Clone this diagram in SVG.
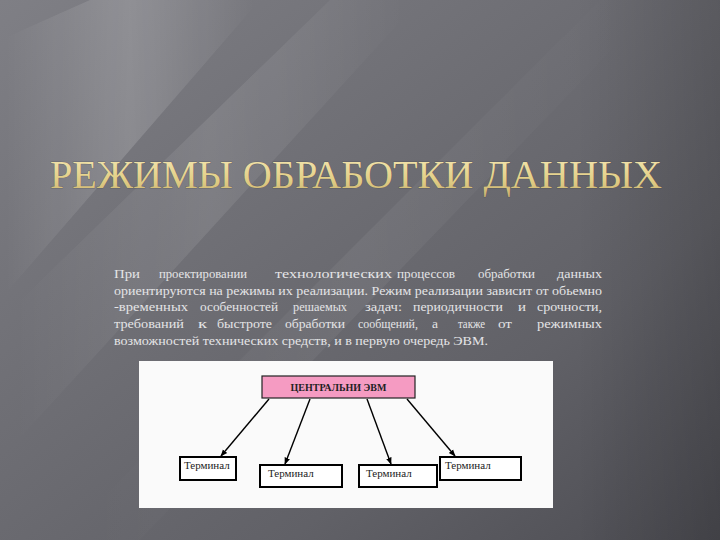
<svg xmlns="http://www.w3.org/2000/svg" width="720" height="540" viewBox="0 0 720 540">
<defs>
  <linearGradient id="bg" x1="0" y1="0" x2="1" y2="1">
    <stop offset="0" stop-color="#7f7f85"/>
    <stop offset="0.35" stop-color="#707076"/>
    <stop offset="0.7" stop-color="#616167"/>
    <stop offset="1" stop-color="#4c4c52"/>
  </linearGradient>
  <linearGradient id="streak" x1="0" y1="0" x2="1" y2="0">
    <stop offset="0" stop-color="#ffffff" stop-opacity="0"/>
    <stop offset="0.5" stop-color="#ffffff" stop-opacity="0.18"/>
    <stop offset="1" stop-color="#ffffff" stop-opacity="0"/>
  </linearGradient>
  <linearGradient id="gold" x1="0" y1="0" x2="0" y2="1">
    <stop offset="0" stop-color="#f6e9b6"/>
    <stop offset="0.6" stop-color="#e2cf86"/>
    <stop offset="1" stop-color="#c8b070"/>
  </linearGradient>
  <linearGradient id="vign" x1="0" y1="0" x2="1" y2="0">
    <stop offset="0" stop-color="#000" stop-opacity="0"/>
    <stop offset="0.8" stop-color="#000" stop-opacity="0"/>
    <stop offset="1" stop-color="#000" stop-opacity="0.15"/>
  </linearGradient>
  <marker id="arr" viewBox="0 0 10 10" refX="9" refY="5" markerWidth="7" markerHeight="7" orient="auto" markerUnits="userSpaceOnUse">
    <path d="M0,1 L10,5 L0,9 Z" fill="#000"/>
  </marker>
  <style>
    text{font-family:'Liberation Serif','DejaVu Serif',serif;}
    .title{font-size:39px;fill:url(#gold);}
    .para{font-size:13.5px;fill:#e4e4e6;}
    .para tspan{lengthAdjust:spacingAndGlyphs;}
    .box{fill:#ffffff;stroke:#000;stroke-width:2;}
    .lbl{font-size:11px;fill:#222;}
    .conn line{stroke:#000;stroke-width:1.4;marker-end:url(#arr);}
  </style>
</defs>
<rect width="720" height="540" fill="url(#bg)"/>
<g opacity="0.9">
  <polygon points="0,40 90,0 260,0 0,300" fill="url(#streak)"/>
  <polygon points="0,320 330,0 420,0 0,460" fill="url(#streak)" opacity="0.6"/>
  <polygon points="60,540 600,0 660,0 140,540" fill="url(#streak)" opacity="0.35"/>
</g>
<rect width="720" height="540" fill="url(#vign)"/>

<text class="title" x="50" y="188" textLength="612" lengthAdjust="spacingAndGlyphs" style="paint-order:stroke" stroke="#3a3a3a" stroke-opacity="0.35" stroke-width="1">РЕЖИМЫ ОБРАБОТКИ ДАННЫХ</text>

<g class="para">
  <text y="278"><tspan x="114" textLength="26" lengthAdjust="spacingAndGlyphs">При</tspan> <tspan x="159" textLength="88" lengthAdjust="spacingAndGlyphs">проектировании</tspan> <tspan x="275" textLength="117" lengthAdjust="spacingAndGlyphs">технологических</tspan> <tspan x="397" textLength="58" lengthAdjust="spacingAndGlyphs">процессов</tspan> <tspan x="478" textLength="57" lengthAdjust="spacingAndGlyphs">обработки</tspan> <tspan x="557" textLength="45" lengthAdjust="spacingAndGlyphs">данных</tspan></text>
  <text x="114" y="295" textLength="488" lengthAdjust="spacingAndGlyphs">ориентируются на режимы их реализации. Режим реализации зависит от обьемно</text>
  <text y="311"><tspan x="114" textLength="74" lengthAdjust="spacingAndGlyphs">-временных</tspan> <tspan x="200" textLength="78" lengthAdjust="spacingAndGlyphs">особенностей</tspan> <tspan x="293" textLength="54" lengthAdjust="spacingAndGlyphs">решаемых</tspan> <tspan x="365" textLength="37" lengthAdjust="spacingAndGlyphs">задач:</tspan> <tspan x="413" textLength="90" lengthAdjust="spacingAndGlyphs">периодичности</tspan> <tspan x="518" textLength="8" lengthAdjust="spacingAndGlyphs">и</tspan> <tspan x="537" textLength="65" lengthAdjust="spacingAndGlyphs">срочности,</tspan></text>
  <text y="328"><tspan x="114" textLength="70" lengthAdjust="spacingAndGlyphs">требований</tspan> <tspan x="198" textLength="9" lengthAdjust="spacingAndGlyphs">к</tspan> <tspan x="217" textLength="55" lengthAdjust="spacingAndGlyphs">быстроте</tspan> <tspan x="285" textLength="60" lengthAdjust="spacingAndGlyphs">обработки</tspan> <tspan x="358" textLength="60" lengthAdjust="spacingAndGlyphs">сообщений,</tspan> <tspan x="432" textLength="6" lengthAdjust="spacingAndGlyphs">а</tspan> <tspan x="458" textLength="27" lengthAdjust="spacingAndGlyphs">также</tspan> <tspan x="498" textLength="14" lengthAdjust="spacingAndGlyphs">от</tspan> <tspan x="537" textLength="65" lengthAdjust="spacingAndGlyphs">режимных</tspan></text>
  <text x="114" y="345" textLength="374" lengthAdjust="spacingAndGlyphs">возможностей технических средств, и в первую очередь ЭВМ.</text>
</g>

<rect id="panel" x="139" y="361" width="414" height="147" fill="#fafafa"/>

<g id="central">
  <rect x="262" y="376" width="153" height="22" fill="#f59bc2" stroke="#222" stroke-width="1.2"/>
  <text x="338.5" y="391" text-anchor="middle" font-size="10" font-weight="bold" fill="#222">ЦЕНТРАЛЬНИ ЭВМ</text>
</g>
<g id="t1">
  <rect class="box" x="180" y="457" width="56" height="23"/>
  <text class="lbl" x="184" y="469">Терминал</text>
</g>
<g id="t2">
  <rect class="box" x="260" y="465" width="82" height="22"/>
  <text class="lbl" x="268" y="477">Терминал</text>
</g>
<g id="t3">
  <rect class="box" x="359" y="465" width="78" height="22"/>
  <text class="lbl" x="366" y="477">Терминал</text>
</g>
<g id="t4">
  <rect class="box" x="440" y="457" width="81" height="23"/>
  <text class="lbl" x="445" y="469">Терминал</text>
</g>

<g class="conn">
  <line x1="269" y1="399" x2="221" y2="456"/>
  <line x1="310" y1="399" x2="285" y2="464"/>
  <line x1="367" y1="399" x2="391" y2="464"/>
  <line x1="407" y1="399" x2="455" y2="456"/>
</g>
</svg>
